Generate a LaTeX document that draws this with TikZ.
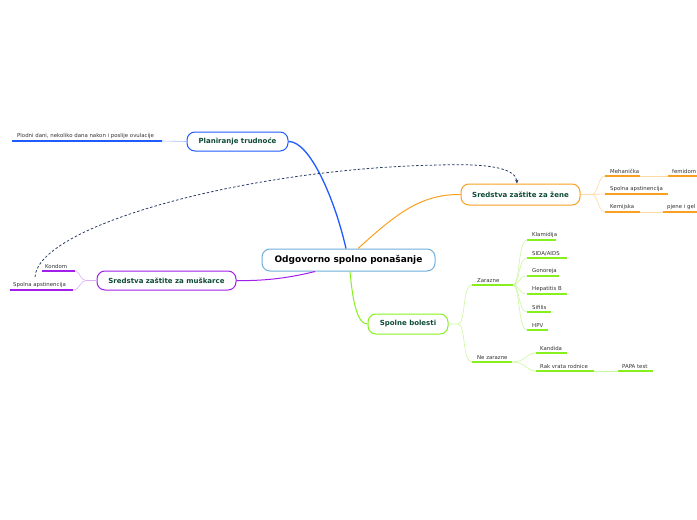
\documentclass[tikz,border=0pt]{standalone}
\usepackage{fontspec}
\setmainfont{DejaVu Sans}
\usetikzlibrary{arrows.meta}
\definecolor{cblue}{HTML}{6FAEDD}
\definecolor{pblue}{HTML}{1F5BFF}
\definecolor{lblue}{HTML}{A9C0FF}
\definecolor{orng}{HTML}{F9A020}
\definecolor{lorng}{HTML}{FDD9A3}
\definecolor{purp}{HTML}{A21EEB}
\definecolor{lpurp}{HTML}{DDB0F7}
\definecolor{grn}{HTML}{86F01E}
\definecolor{lgrn}{HTML}{C9F8A0}
\definecolor{ntext}{HTML}{0E4A36}
\definecolor{stext}{HTML}{333333}
\definecolor{navy}{HTML}{2A3D66}
\begin{document}
\begin{tikzpicture}[x=1pt,y=-1pt,
  topic/.style={rounded corners=8pt, fill=white, line width=1pt, inner sep=0pt,
    font=\bfseries\fontsize{7}{8}\selectfont, text=ntext},
  small/.style={font=\fontsize{5.4}{6}\selectfont, text=stext, anchor=south west, inner sep=0pt},
  ul/.style={line width=1.1pt},
  thin/.style={line width=0.6pt}]
\useasboundingbox (0,0) rectangle (697,520);

% main nodes
\node[topic, draw=cblue, minimum width=173pt, minimum height=22pt, text=black,
  font=\bfseries\fontsize{9}{10}\selectfont] (c) at (348.5,260) {Odgovorno spolno ponašanje};
\node[topic, draw=pblue, minimum width=101pt, minimum height=19pt] (plan) at (237.5,141.5) {Planiranje trudnoće};
\node[topic, draw=orng, minimum width=119pt, minimum height=21pt] (zene) at (520.5,194.5) {Sredstva zaštite za žene};
\node[topic, draw=purp, minimum width=139pt, minimum height=19pt] (musk) at (166.5,280.5) {Sredstva zaštite za muškarce};
\node[topic, draw=grn, minimum width=80pt, minimum height=20pt] (bol) at (408,324) {Spolne bolesti};

% main connectors
\draw[pblue, line width=1.3pt] ([xshift=-2.5pt]c.north) .. controls (335,200) and (310,141) .. (plan.east);
\draw[orng, line width=1pt] ([xshift=9.5pt]c.north) .. controls (395,215) and (420,194) .. (zene.west);
\draw[purp, line width=1pt] ([xshift=-33.5pt]c.south) .. controls (285,279) and (260,281) .. (musk.east);
\draw[grn, line width=1pt] ([xshift=1.5pt]c.south) .. controls (353,305) and (358,324) .. (bol.west);

% Planiranje trudnoce
\node[small] (pd) at (17,139) {Plodni dani, nekoliko dana nakon i poslije ovulacije};
\coordinate (pdr) at (162,141);
\coordinate (pdl) at (12,141);
\draw[lblue, thin] (plan.west) -- (pdr);
\draw[pblue, ul] (pdl) -- (pdr);

% Sredstva za zene
\node[small] (meh) at (610,174) {Mehanička};
\node[small] (spz) at (610,192) {Spolna apstinencija};
\node[small] (kem) at (610,210) {Kemijska};
\node[small] (fem) at (672,174) {femidom};
\node[small] (pje) at (667,210) {pjene i gel};
\coordinate (mehl) at (605,176); \coordinate (mehr) at (640,176);
\coordinate (spzl) at (605,194); \coordinate (spzr) at (668,194);
\coordinate (keml) at (605,212); \coordinate (kemr) at (640,212);
\coordinate (feml) at (668,176); \coordinate (femr) at (697,176);
\coordinate (pjel) at (663,212); \coordinate (pjer) at (697,212);
\draw[lorng, thin] (zene.east) -- (592,194.5) .. controls (598,194.5) and (598,176) .. (mehl);
\draw[lorng, thin] (592,194.5) .. controls (598,194.5) and (598,212) .. (keml);
\draw[lorng, thin] (592,194.5) -- (spzl);
\draw[lorng, thin] (mehr) -- (feml);
\draw[lorng, thin] (kemr) -- (pjel);
\draw[orng, ul] (mehl) -- (mehr);
\draw[orng, ul] (spzl) -- (spzr);
\draw[orng, ul] (keml) -- (kemr);
\draw[orng, ul] (feml) -- (femr);
\draw[orng, ul] (pjel) -- (pjer);

% Sredstva za muskarce
\node[small] (kon) at (45,269) {Kondom};
\node[small] (spm) at (13,288) {Spolna apstinencija};
\coordinate (konl) at (42,271); \coordinate (konr) at (75,271);
\coordinate (spml) at (10,290); \coordinate (spmr) at (73,290);
\draw[lpurp, thin] (musk.west) -- (86,280.5) .. controls (80,280.5) and (80,271) .. (konr);
\draw[lpurp, thin] (86,280.5) .. controls (80,280.5) and (80,290) .. (spmr);
\draw[purp, ul] (konl) -- (konr);
\draw[purp, ul] (spml) -- (spmr);

% Spolne bolesti
\node[small] (zar) at (477,283) {Zarazne};
\node[small] (nez) at (477,360) {Ne zarazne};
\coordinate (zarl) at (472,285); \coordinate (zarr) at (513,285);
\coordinate (nezl) at (472,362); \coordinate (nezr) at (512,362);
\draw[lgrn, thin] (bol.east) -- (458,324) .. controls (466,324) and (462,285) .. (zarl);
\draw[lgrn, thin] (458,324) .. controls (466,324) and (462,362) .. (nezl);
\draw[grn, ul] (zarl) -- (zarr);
\draw[grn, ul] (nezl) -- (nezr);

\foreach \n/\t/\y/\r in {kla/Klamidija/240/556, sid/SIDA\slash AIDS/258/567, gon/Gonoreja/276/559,
  hep/Hepatitis B/294/567, sif/Sifilis/312/551, hpv/HPV/330/548}{
  \node[small] (\n) at (532,\y-2) {\t};
  \coordinate (\n l) at (527,\y);
  \coordinate (\n r) at (\r,\y);
  \draw[lgrn, thin] (zarr) .. controls (520,285) and (518,\y) .. (\n l);
  \draw[grn, ul] (\n l) -- (\n r);
}

\node[small] (kan) at (540,351) {Kandida};
\node[small] (rak) at (540,369) {Rak vrata rodnice};
\node[small] (pap) at (622,369) {PAPA test};
\coordinate (kanl) at (536,353); \coordinate (kanr) at (567,353);
\coordinate (rakl) at (536,371); \coordinate (rakr) at (594,371);
\coordinate (papl) at (618,371); \coordinate (papr) at (653,371);
\draw[lgrn, thin] (nezr) .. controls (526,362) and (526,353) .. (kanl);
\draw[lgrn, thin] (nezr) .. controls (526,362) and (526,371) .. (rakl);
\draw[lgrn, thin] (rakr) -- (papl);
\draw[grn, ul] (kanl) -- (kanr);
\draw[grn, ul] (rakl) -- (rakr);
\draw[grn, ul] (papl) -- (papr);

% dashed relation
\coordinate (ds) at (35,277);
\draw[navy, line width=0.8pt, dash pattern=on 2.5pt off 2pt, -{Stealth[length=4pt,width=3.5pt]}]
  (ds) .. controls (38,225) and (250,168) .. (440,165)
  .. controls (495,163) and (516,170) .. ([xshift=-3.5pt]zene.north);
\end{tikzpicture}
\end{document}
